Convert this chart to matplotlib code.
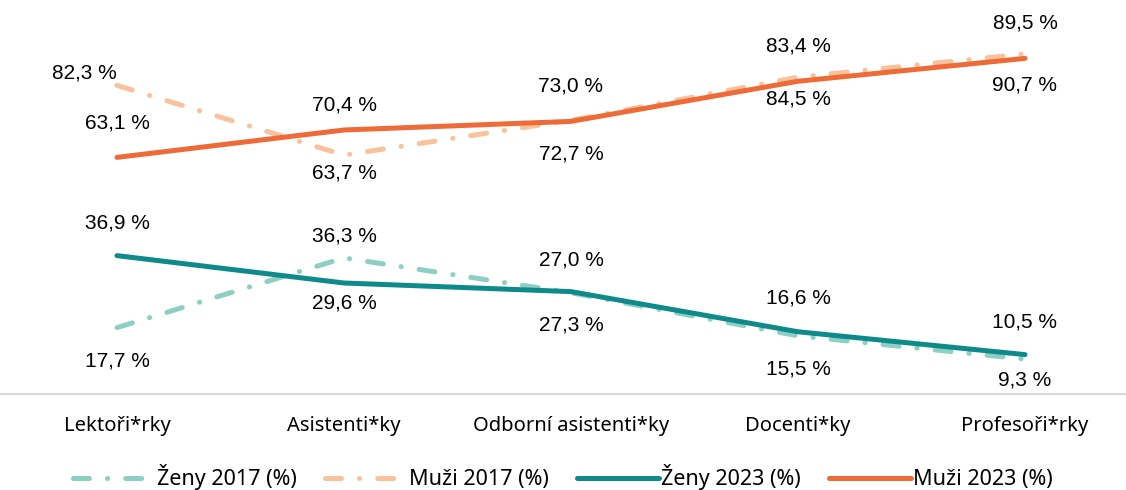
import matplotlib.pyplot as plt

categories = ["Lektoři*rky", "Asistenti*ky", "Odborní asistenti*ky", "Docenti*ky", "Profesoři*rky"]
zeny_2017 = [17.7, 36.3, 27.0, 15.5, 9.3]
muzi_2017 = [82.3, 63.7, 73.0, 84.5, 90.7]
zeny_2023 = [36.9, 29.6, 27.3, 16.6, 10.5]
muzi_2023 = [63.1, 70.4, 72.7, 83.4, 89.5]

# label offsets in pixels (dx, dy), + is up
off_z17 = [(0, -33), (0, 22), (0, 33), (0, -33), (0, -21)]
off_m17 = [(-33, 12), (0, -18), (0, 34), (0, -22), (0, -31)]
off_z23 = [(0, 33), (0, -20), (0, -33), (0, 34), (0, 33)]
off_m23 = [(0, 34), (0, 25), (0, -33), (0, 35), (0, 35)]

plt.rcParams['font.family'] = ['Noto Sans', 'DejaVu Sans']

fig = plt.figure(figsize=(11.26, 4.9), dpi=100)
ax = fig.add_axes([0.0, 1 - 394 / 490, 1.0, (394 - 19) / 490])
x = list(range(len(categories)))

dash = (3.2, 3.6, 0.05, 3.6)
series = [
    ("Ženy 2017 (%)", zeny_2017, "#8dd0c3", dash, off_z17),
    ("Muži 2017 (%)", muzi_2017, "#f9c29c", dash, off_m17),
    ("Ženy 2023 (%)", zeny_2023, "#0e8a8a", None, off_z23),
    ("Muži 2023 (%)", muzi_2023, "#ee6a37", None, off_m23),
]
for name, vals, col, ds, offs in series:
    if ds:
        ax.plot(x, vals, color=col, lw=3.6, dashes=ds, dash_capstyle="round", label=name)
    else:
        ax.plot(x, vals, color=col, lw=3.6, solid_capstyle="round", label=name)
    for xi, v, (dx, dy) in zip(x, vals, offs):
        ax.annotate(f"{v:.1f} %".replace(".", ","), (xi, v), xytext=(dx * 0.72, dy * 0.72),
                    textcoords="offset points", ha="center", va="center", fontsize=15,
                    family=["Liberation Sans", "DejaVu Sans"])

ax.set_xlim(-117 / 227, (1126 - 117) / 227)
ax.set_ylim(0, 100)
for s in ["top", "right", "left"]:
    ax.spines[s].set_visible(False)
ax.spines["bottom"].set_color("#d9d9d9")
ax.spines["bottom"].set_linewidth(1.5)
ax.set_yticks([])
ax.set_xticks(x)
ax.set_xticklabels(categories, fontsize=14.5)
ax.tick_params(axis="x", length=0, pad=16)

fig.legend(loc="lower center", bbox_to_anchor=(0.5, -0.04), ncol=4, frameon=False,
           fontsize=15.5, handlelength=3.8, columnspacing=1.3, handletextpad=0.1)

plt.savefig("out.png", dpi=100)
